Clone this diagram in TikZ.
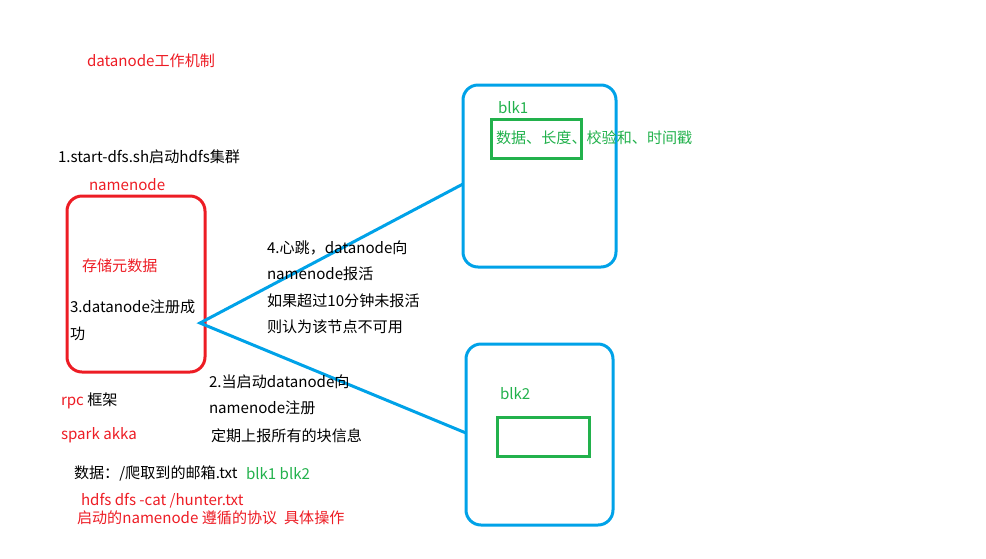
\documentclass[tikz,border=0pt]{standalone}
\usepackage{fontspec}
\setmainfont{Noto Sans CJK SC}
\begin{document}
\begin{tikzpicture}[x=1pt,y=-1pt,
  every node/.style={inner sep=0pt,outer sep=0pt,font=\fontsize{15.1}{18}\selectfont},
  txt/.style={anchor=west,text=black},
  rtxt/.style={anchor=west,text=myred},
  gtxt/.style={anchor=west,text=mygreen},
  redbox/.style={draw=myred,line width=3pt,rounded corners=15pt},
  bluebox/.style={draw=myblue,line width=3pt,rounded corners=15pt},
  greenbox/.style={draw=mygreen,line width=3pt},
  link/.style={draw=myblue,line width=3pt}]
\definecolor{myred}{HTML}{ED1C24}
\definecolor{myblue}{HTML}{00A2E8}
\definecolor{mygreen}{HTML}{22B14C}
\useasboundingbox (0,0) rectangle (986,558);
% boxes
\node[redbox,minimum width=138pt,minimum height=176pt] (nn) at (136,284) {};
\node[bluebox,minimum width=153pt,minimum height=182pt] (b1) at (539.5,176) {};
\node[bluebox,minimum width=147pt,minimum height=181pt] (b2) at (539.5,434.5) {};
\node[greenbox,minimum width=90pt,minimum height=39pt] (g1) at (536,138.5) {};
\node[greenbox,minimum width=92pt,minimum height=39pt] (g2) at (543,436.5) {};
% connectors
\coordinate (hub) at (200,323);
\draw[link] ([yshift=-8pt]b1.west) -- (hub) -- ([yshift=1.5pt]b2.west);
% texts
\node[rtxt] (title) at (87,61) {datanode工作机制};
\node[txt] (t1) at (58,157) {1.start-dfs.sh启动hdfs集群};
\node[rtxt] (nnlabel) at (89,185) {namenode};
\node[rtxt] (meta) at (82,266) {存储元数据};
\node[txt] (reg1) at (70,307) {3.datanode注册成};
\node[txt] (reg2) at (70,334) {功};
\node[txt] (hb1) at (267,248) {4.心跳，datanode向};
\node[txt] (hb2) at (267,274) {namenode报活};
\node[txt] (hb3) at (267,301) {如果超过10分钟未报活};
\node[txt] (hb4) at (267,327) {则认为该节点不可用};
\node[txt] (s1) at (209,382) {2.当启动datanode向};
\node[txt] (s2) at (209,408) {namenode注册};
\node[txt] (s3) at (211,436) {定期上报所有的块信息};
\node[anchor=west] (rpc) at (61,401) {\textcolor{myred}{rpc} 框架};
\node[rtxt] (spark) at (61,435) {spark akka};
\node[txt] (data) at (74,473) {数据：/爬取到的邮箱.txt};
\node[gtxt] (blks) at (246,474) {blk1 blk2};
\node[rtxt] (cat) at (81,501) {hdfs dfs -cat /hunter.txt};
\node[rtxt] (proto) at (77,518) {启动的namenode 遵循的协议\ \ 具体操作};
\node[gtxt] (blk1) at (498,108) {blk1};
\node[gtxt] (info) at (496,138) {数据、长度、校验和、时间戳};
\node[gtxt] (blk2) at (500,394) {blk2};
\end{tikzpicture}
\end{document}
